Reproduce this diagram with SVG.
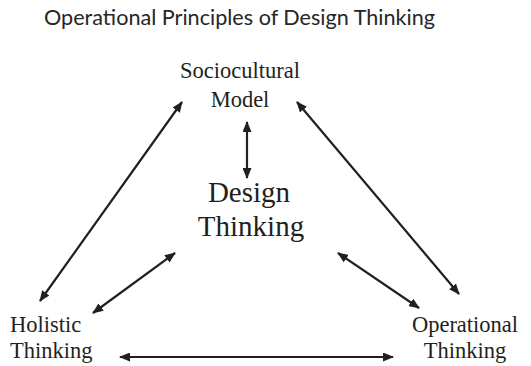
<svg xmlns="http://www.w3.org/2000/svg" width="531" height="366" viewBox="0 0 531 366">
<style>
.title{font-family:Lato,"Open Sans",sans-serif;font-size:21px;fill:#262626}
.lbl{font-family:"Liberation Serif","Times New Roman",serif;font-size:22.5px;fill:#231f20}
.big{font-family:"Liberation Serif","Times New Roman",serif;font-size:29px;fill:#231f20}
.ln{stroke:#231f20;stroke-width:2.2;fill:none;marker-start:url(#ah);marker-end:url(#ah)}
</style>
<defs>
<marker id="ah" viewBox="0 0 11 9" refX="10" refY="4.5" markerWidth="11" markerHeight="9" markerUnits="userSpaceOnUse" orient="auto-start-reverse">
<path d="M0,0 L11,4.5 L0,9 Z" fill="#231f20"/>
</marker>
</defs>
<rect width="531" height="366" fill="#fff"/>
<text class="title" x="44" y="25" textLength="391" lengthAdjust="spacingAndGlyphs">Operational Principles of Design Thinking</text>
<g id="sociocultural">
<text class="lbl" x="240" y="78" text-anchor="middle">Sociocultural</text>
<text class="lbl" x="240" y="107" text-anchor="middle">Model</text>
</g>
<g id="design">
<text class="big" x="249" y="202" text-anchor="middle">Design</text>
<text class="big" x="251" y="236" text-anchor="middle">Thinking</text>
</g>
<g id="holistic">
<text class="lbl" x="10" y="332">Holistic</text>
<text class="lbl" x="10" y="358">Thinking</text>
</g>
<g id="operational">
<text class="lbl" x="465" y="332" text-anchor="middle">Operational</text>
<text class="lbl" x="465" y="358" text-anchor="middle">Thinking</text>
</g>
<g id="connectors">
<line class="ln" x1="40" y1="301" x2="182" y2="102"/>
<line class="ln" x1="297" y1="102" x2="459" y2="294"/>
<line class="ln" x1="247" y1="122" x2="247" y2="178"/>
<line class="ln" x1="93" y1="313" x2="175" y2="253"/>
<line class="ln" x1="338" y1="253" x2="419" y2="308"/>
<line class="ln" x1="120" y1="357" x2="393" y2="357"/>
</g>
</svg>
